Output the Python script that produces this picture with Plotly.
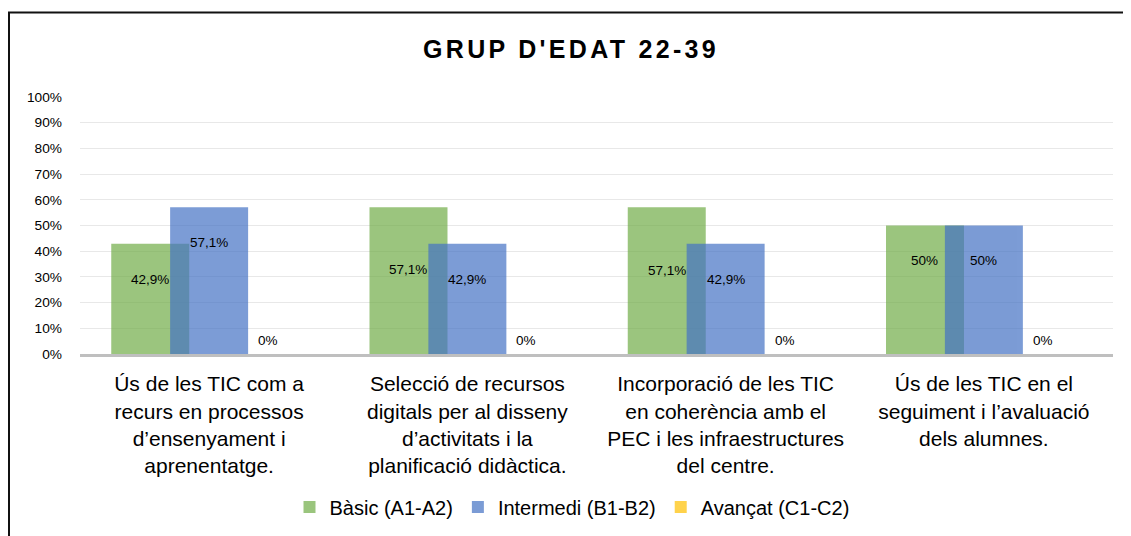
import plotly.graph_objects as go

categories = [
    "Ús de les TIC com a<br>recurs en processos<br>d’ensenyament i<br>aprenentatge.",
    "Selecció de recursos<br>digitals per al disseny<br>d’activitats i la<br>planificació didàctica.",
    "Incorporació de les TIC<br>en coherència amb el<br>PEC i les infraestructures<br>del centre.",
    "Ús de les TIC en el<br>seguiment i l’avaluació<br>dels alumnes.",
]
series_names = ["Bàsic (A1-A2)", "Intermedi (B1-B2)", "Avançat (C1-C2)"]
basic = [42.9, 57.1, 57.1, 50]
intermedi = [57.1, 42.9, 42.9, 50]
avancat = [0, 0, 0, 0]
basic_labels = ["42,9%", "57,1%", "57,1%", "50%"]
intermedi_labels = ["57,1%", "42,9%", "42,9%", "50%"]
avancat_labels = ["0%", "0%", "0%", "0%"]
y_ticks = list(range(0, 101, 10))
y_tick_text = [f"{v}%" for v in y_ticks]

colors = ["#70AD47", "#4472C4", "#FFC000"]
FONT = "Arial, Liberation Sans, sans-serif"

W = 0.302      # bar width (category units)
STEP = 0.228   # shift between series
offsets = [-STEP - W / 2, -W / 2, STEP - W / 2]

fig = go.Figure()
for name, vals, col, off in zip(series_names, [basic, intermedi, avancat], colors, offsets):
    fig.add_trace(go.Bar(
        x=list(range(len(categories))), y=vals, name=name,
        marker=dict(color=col, line=dict(width=0)), opacity=0.7,
        width=W, offset=off,
    ))

# data label vertical placement (as in the original chart)
label_y = [
    [28.8, 32.7, 32.3, 36.2],
    [43.2, 28.8, 28.8, 36.2],
    [5.1, 5.1, 5.1, 5.1],
]
annotations = []
for k, labels in enumerate([basic_labels, intermedi_labels, avancat_labels]):
    for i, lab in enumerate(labels):
        annotations.append(dict(
            x=i + offsets[k] + W / 2, y=label_y[k][i], xref="x", yref="y",
            text=lab, showarrow=False,
            font=dict(family=FONT, size=13.5, color="#000000"),
        ))

# page body has an 8px margin; coordinates below are in figure space
OFF = 8
L, R, T, B = 80 - OFF, 1131 - (1113 - OFF), 97 - OFF, 536 - (354 - OFF)
plot_w = 1131 - L - R
plot_h = 536 - T - B
axis_y = 354 - OFF

fig.update_layout(
    width=1131, height=536,
    margin=dict(l=L, r=R, t=T, b=B),
    paper_bgcolor="white", plot_bgcolor="white",
    barmode="overlay",
    title=dict(
        text='<span style="letter-spacing:3.3px"><b>GRUP D\'EDAT 22-39</b></span>',
        x=(571 - OFF) / 1131, xanchor="center", xref="container",
        y=1 - (49 - OFF) / 536, yanchor="middle", yref="container",
        font=dict(family=FONT, size=25, color="#000000"),
    ),
    font=dict(family=FONT, color="#000000"),
    xaxis=dict(
        tickmode="array", tickvals=list(range(len(categories))), ticktext=categories,
        range=[-0.5, len(categories) - 0.5],
        showgrid=False, showline=True, linecolor="#bfbfbf", linewidth=3,
        ticks="", tickfont=dict(family=FONT, size=21, color="#000000"),
        ticklabelstandoff=9, zeroline=False,
    ),
    yaxis=dict(
        range=[0, 100], tickmode="array", tickvals=y_ticks, ticktext=y_tick_text,
        showgrid=True, gridcolor="#e8e8e8", gridwidth=1,
        zeroline=False, showline=False,
        tickfont=dict(family=FONT, size=13.7, color="#000000"),
        ticklabelstandoff=17,
    ),
    legend=dict(
        orientation="h", x=(572 - 80) / plot_w, xanchor="center",
        y=(axis_y - (507 - OFF)) / plot_h, yanchor="middle",
        font=dict(family=FONT, size=20, color="#000000"),
        itemwidth=30, traceorder="normal",
    ),
    annotations=annotations,
    shapes=[dict(
        type="rect", xref="paper", yref="paper",
        x0=(1 - L) / plot_w, x1=1.05,
        y0=-0.9, y1=(axis_y - (12.5 - OFF)) / plot_h,
        line=dict(color="#111111", width=2), fillcolor="rgba(0,0,0,0)",
        layer="above",
    )],
)

fig.write_html("out.html")
